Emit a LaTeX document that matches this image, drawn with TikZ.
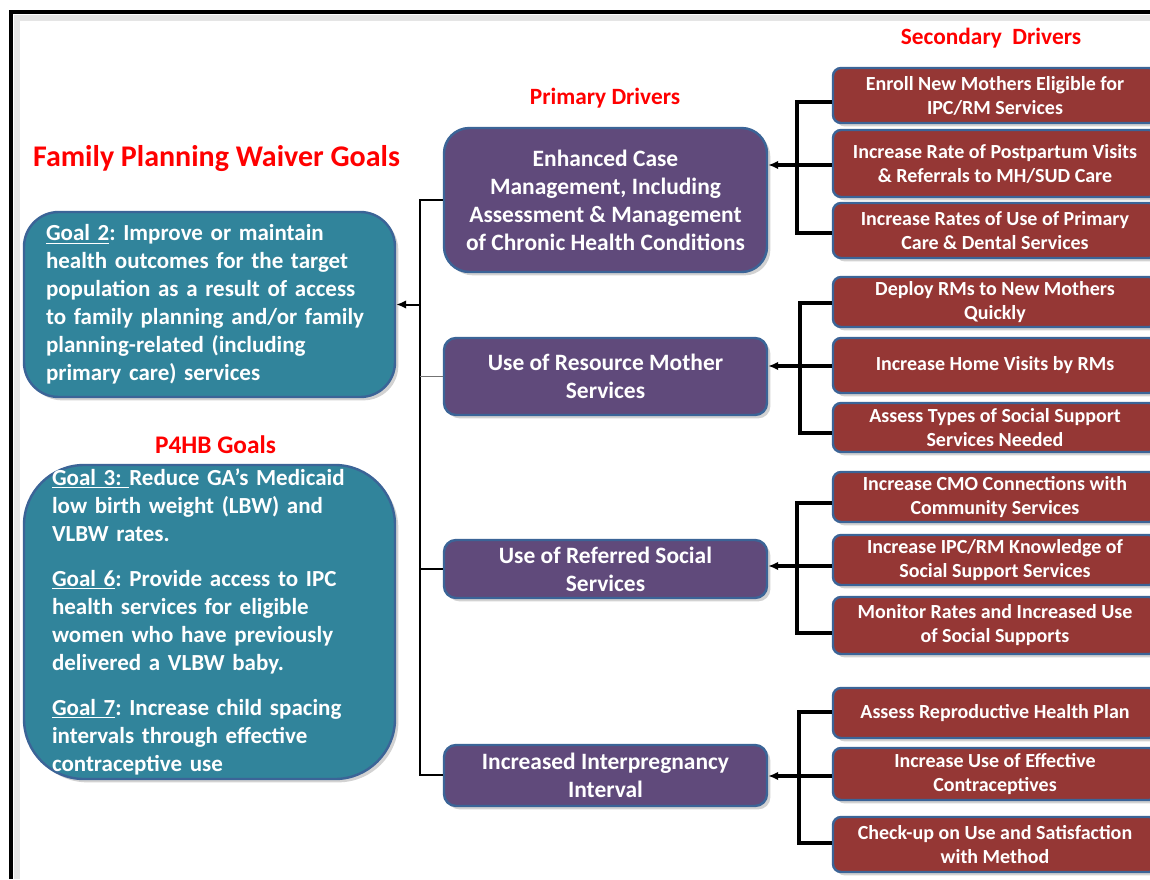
\documentclass[tikz,border=0pt]{standalone}
\usepackage{fontspec}
\setmainfont{Carlito}
\usetikzlibrary{shadows,arrows.meta}
\definecolor{tealbox}{HTML}{31849B}
\definecolor{purpbox}{HTML}{604A7B}
\definecolor{redbox}{HTML}{953735}
\definecolor{edgeblue}{HTML}{3B6497}
\frenchspacing
\begin{document}
\begin{tikzpicture}[x=0.75pt,y=-0.75pt,
  every node/.style={font=\bfseries},
  basebox/.style={draw=edgeblue, line width=1.8pt, inner sep=0pt, text=white,
    drop shadow={opacity=0.35, shadow xshift=2.5pt, shadow yshift=-2.5pt}},
  goalbox/.style={basebox, fill=tealbox, align=left},
  primbox/.style={basebox, fill=purpbox, align=center, rounded corners=9pt,
    minimum width=242.25pt, font=\fontsize{17.6}{21}\selectfont\bfseries},
  secbox/.style={basebox, fill=redbox, align=center, rounded corners=6pt,
    minimum width=243pt, font=\fontsize{15}{18}\selectfont\bfseries},
  titletext/.style={text=red},
  busline/.style={black, line width=1.5pt},
  thinline/.style={line width=0.8pt},
  brkline/.style={black, line width=2.4pt},
  arrowtip/.style={-{Latex[length=7.5pt,width=6.5pt]}}
]
\useasboundingbox (0,0) rectangle (1150,879);
\clip (0,0) rectangle (1150,879);
\fill[white] (0,0) rectangle (1150,879);
% frame
\draw[black!10, line width=5pt] (17,879) -- (17,18) -- (1150,18);
\draw[black, line width=2.6pt] (11,879) -- (11,12) -- (1150,12);

% titles
\node[titletext, font=\fontsize{22.5}{26}\selectfont\bfseries] (t1) at (216.5,159) {Family Planning Waiver Goals};
\node[titletext, font=\fontsize{19}{22}\selectfont\bfseries] (t2) at (215.5,445) {P4HB Goals};
\node[titletext, font=\fontsize{17.5}{20}\selectfont\bfseries] (t3) at (605,98) {Primary Drivers};
\node[titletext, font=\fontsize{17.5}{20}\selectfont\bfseries] (t4) at (991,38) {Secondary~~Drivers};

% goal boxes
\node[goalbox, rounded corners=26pt, text width=245.25pt, inner xsep=16.5pt,
  minimum height=138.75pt, font=\fontsize{17.25}{21}\selectfont\bfseries] (goal2) at (209.5,304.5)
{\underline{Goal 2}: Improve or maintain\\
health outcomes for the target\\
population as a result of access\\
to family planning and/or family\\
planning-related (including\\
primary care) services};

\node[goalbox, rounded corners=45pt, text width=236.25pt, inner xsep=21pt,
  minimum height=235.5pt, font=\fontsize{17.25}{21}\selectfont\bfseries] (goal3) at (209.5,622)
{\underline{Goal 3:\ }Reduce GA’s Medicaid\\
low birth weight (LBW) and\\
VLBW rates.\\[12.75pt]
\underline{Goal 6}: Provide access to IPC\\
health services for eligible\\
women who have previously\\
delivered a VLBW baby.\\[12.75pt]
\underline{Goal 7}: Increase child spacing\\
intervals through effective\\
contraceptive use};

% primary drivers
\node[primbox, rounded corners=19pt, minimum height=108pt] (p1) at (605.5,200)
  {Enhanced Case\\Management, Including\\Assessment \& Management\\of Chronic Health Conditions};
\node[primbox, minimum height=57.75pt] (p2) at (605.5,376.5) {Use of Resource Mother\\Services};
\node[primbox, minimum height=43.5pt] (p3) at (605.5,569) {Use of Referred Social\\Services};
\node[primbox, minimum height=45.75pt] (p4) at (605.5,775.5) {Increased Interpregnancy\\Interval};

% secondary drivers
\node[secbox, minimum height=41.25pt] (s1) at (995,95.5) {Enroll New Mothers Eligible for\\IPC/RM Services};
\node[secbox, minimum height=50.25pt] (s2) at (995,163.5) {Increase Rate of Postpartum Visits\\\& Referrals to MH/SUD Care};
\node[secbox, minimum height=41.25pt] (s3) at (995,230.5) {Increase Rates of Use of Primary\\Care \& Dental Services};

\node[secbox, minimum height=37.5pt] (s4) at (995,302) {Deploy RMs to New Mothers\\Quickly};
\node[secbox, minimum height=41.25pt] (s5) at (995,365.5) {Increase Home Visits by RMs};
\node[secbox, minimum height=36.75pt] (s6) at (995,427.5) {Assess Types of Social Support\\Services Needed};

\node[secbox, minimum height=37.5pt] (s7) at (995,497) {Increase CMO Connections with\\Community Services};
\node[secbox, minimum height=37.5pt] (s8) at (995,560) {Increase IPC/RM Knowledge of\\Social Support Services};
\node[secbox, minimum height=42.75pt] (s9) at (995,625.5) {Monitor Rates and Increased Use\\of Social Supports};

\node[secbox, minimum height=37.5pt] (s10) at (995,713) {Assess Reproductive Health Plan};
\node[secbox, minimum height=39pt] (s11) at (995,774) {Increase Use of Effective\\Contraceptives};
\node[secbox, minimum height=41.25pt] (s12) at (995,844.5) {Check-up on Use and Satisfaction\\with Method};

% left bus
\coordinate (lt) at (420,200);
\coordinate (lb) at (420,775);
\draw[busline] (p1.west |- lt) -- (lt) -- (lb) -- (p4.west |- lb);
\draw[thinline, black!55] (p2.west) -- (p2.west -| lt);
\draw[thinline, black] (p3.west) -- (p3.west -| lt);
\draw[busline, arrowtip] (goal2.east -| lt) -- (goal2.east);

% brackets
\coordinate (b1t) at (797,102); \coordinate (b1m) at (797,165); \coordinate (b1b) at (797,233);
\draw[brkline] (s1.west |- b1t) -- (b1t) -- (b1b) -- (s3.west |- b1b);
\draw[brkline, arrowtip] (s2.west |- b1m) -- (p1.east |- b1m);

\coordinate (b2t) at (800,303); \coordinate (b2m) at (800,366); \coordinate (b2b) at (800,433);
\draw[brkline] (s4.west |- b2t) -- (b2t) -- (b2b) -- (s6.west |- b2b);
\draw[brkline, arrowtip] (s5.west |- b2m) -- (p2.east |- b2m);

\coordinate (b3t) at (797,503); \coordinate (b3m) at (797,566); \coordinate (b3b) at (797,633);
\draw[brkline] (s7.west |- b3t) -- (b3t) -- (b3b) -- (s9.west |- b3b);
\draw[brkline, arrowtip] (s8.west |- b3m) -- (p3.east |- b3m);

\coordinate (b4t) at (799,712); \coordinate (b4m) at (799,776); \coordinate (b4b) at (799,843);
\draw[brkline] (s10.west |- b4t) -- (b4t) -- (b4b) -- (s12.west |- b4b);
\draw[brkline, arrowtip] (s11.west |- b4m) -- (p4.east |- b4m);
\end{tikzpicture}
\end{document}
